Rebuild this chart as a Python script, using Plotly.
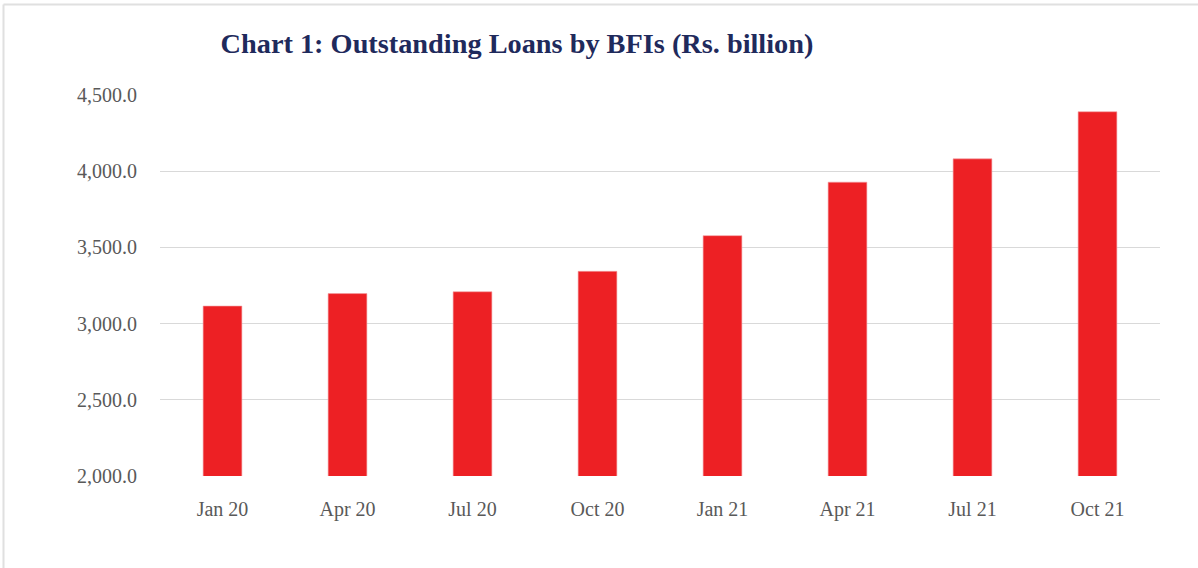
import plotly.graph_objects as go

months = ["Jan 20", "Apr 20", "Jul 20", "Oct 20", "Jan 21", "Apr 21", "Jul 21", "Oct 21"]
loans = [3115, 3197, 3209, 3343, 3577, 3928, 4081, 4390]
y_ticks = [2000, 2500, 3000, 3500, 4000, 4500]

W, H = 1198, 568
L, T = 160, 95
pw, ph = 1000, 381
R, B = W - L - pw, H - T - ph


def px_x(p):
    return (p - L) / pw


def px_y(p):
    return (H - B - p) / ph


fig = go.Figure(go.Bar(
    x=months, y=loans,
    marker=dict(color="#ed2024", line=dict(color="#f3a0a2", width=0.6)),
    width=0.31,
))

fig.update_layout(
    width=W, height=H,
    margin=dict(l=L, r=R, t=T, b=B),
    paper_bgcolor="white", plot_bgcolor="white",
    showlegend=False,
    title=dict(
        text="<b>Chart 1: Outstanding Loans by BFIs (Rs. billion)</b>",
        font=dict(family="Liberation Serif", size=28.3, color="#1f2a5c"),
        x=px_x(517), xref="paper", xanchor="center",
        y=1 - 43 / H, yref="container", yanchor="middle",
    ),
    font=dict(family="Liberation Serif", size=20, color="#595959"),
    xaxis=dict(showgrid=False, showline=False, ticks="", ticklabelstandoff=19,
               tickfont=dict(size=20, color="#595959")),
    yaxis=dict(range=[2000, 4500], tickvals=y_ticks,
               ticktext=[f"{v:,.1f}" for v in y_ticks],
               showgrid=True, gridcolor="#d9d9d9", gridwidth=1.3,
               zeroline=False, showline=False, ticks="", ticklabelstandoff=22,
               tickfont=dict(size=20, color="#595959")),
    shapes=[
        dict(type="line", xref="paper", yref="paper", x0=px_x(3.5), x1=px_x(1198),
             y0=px_y(4.5), y1=px_y(4.5), line=dict(color="#e0e0e0", width=2)),
        dict(type="line", xref="paper", yref="paper", x0=px_x(3.5), x1=px_x(3.5),
             y0=px_y(4.5), y1=px_y(568), line=dict(color="#e0e0e0", width=2)),
    ],
)

# drop the default 8px page margin so the figure sits at the window's corner
fig.write_html("out.html", config={"displayModeBar": False},
               post_script="document.body.style.margin='0';")
